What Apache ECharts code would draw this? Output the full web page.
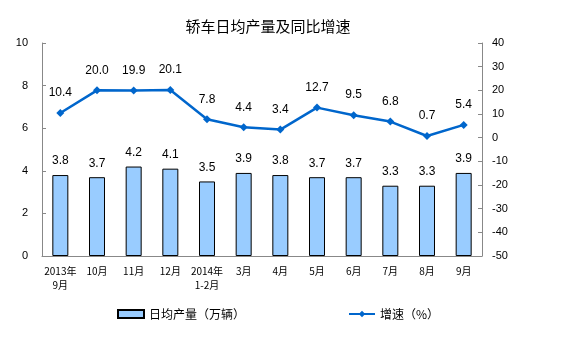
<!DOCTYPE html>
<html><head><meta charset="utf-8">
<script src="https://cdn.jsdelivr.net/npm/echarts@6/dist/echarts.min.js"></script>
<style>html,body{margin:0;padding:0;background:#fff}#c{width:565px;height:350px}</style>
</head><body><div id="c"></div>
<script>
var categories = ['2013年\n9月','10月','11月','12月','2014年\n1-2月','3月','4月','5月','6月','7月','8月','9月'];
var dailyOutput = [3.8,3.7,4.2,4.1,3.5,3.9,3.8,3.7,3.7,3.3,3.3,3.9];
var growthRate = [10.4,20.0,19.9,20.1,7.8,4.4,3.4,12.7,9.5,6.8,0.7,5.4];
var chart = echarts.init(document.getElementById('c'));
var axisCol = '#888888';
chart.setOption({
  animation:false,
  backgroundColor:'#fff',
  title:{text:'轿车日均产量及同比增速',left:263,top:14,textAlign:'center',
    textStyle:{fontFamily:'Noto Sans CJK SC',fontSize:15,fontWeight:'normal',color:'#000'}},
  grid:{left:42,right:83,top:43,bottom:94},
  legend:{top:303,left:112,itemGap:103,itemWidth:26,itemHeight:8,
    textStyle:{fontFamily:'Noto Sans CJK SC',fontSize:12,color:'#000'},
    data:[{name:'日均产量（万辆）',icon:'rect'},{name:'增速（%）'}]},
  xAxis:{type:'category',data:categories,
    axisLine:{lineStyle:{color:axisCol}},
    axisTick:{inside:true,length:4,lineStyle:{color:axisCol}},
    axisLabel:{color:'#000',fontFamily:'Noto Sans CJK SC',fontSize:10,lineHeight:14,margin:8,interval:0}},
  yAxis:[
    {type:'value',min:0,max:10,interval:2,position:'left',
     axisLine:{show:true,lineStyle:{color:axisCol}},
     axisTick:{show:true,inside:true,length:4,lineStyle:{color:axisCol}},
     splitLine:{show:false},
     axisLabel:{color:'#000',fontFamily:'Liberation Sans',fontSize:11,margin:14}},
    {type:'value',min:-50,max:40,interval:10,position:'right',
     axisLine:{show:true,lineStyle:{color:axisCol}},
     axisTick:{show:true,inside:true,length:4,lineStyle:{color:axisCol}},
     splitLine:{show:false},
     axisLabel:{color:'#000',fontFamily:'Liberation Sans',fontSize:11,margin:10}}
  ],
  series:[
    {name:'日均产量（万辆）',type:'bar',data:dailyOutput,barWidth:16,yAxisIndex:0,
     itemStyle:{color:'#99CCFF',borderColor:'#000',borderWidth:1},
     label:{show:true,position:'top',distance:8,color:'#000',fontFamily:'Liberation Sans',fontSize:12,
       formatter:function(p){return p.value.toFixed(1);}}},
    {name:'增速（%）',type:'line',data:growthRate,yAxisIndex:1,
     symbol:'diamond',symbolSize:8,
     lineStyle:{color:'#0066CC',width:2.5},
     itemStyle:{color:'#0066CC'},
     label:{show:true,position:'top',distance:10,color:'#000',fontFamily:'Liberation Sans',fontSize:12,
       formatter:function(p){return p.value.toFixed(1);}}}
  ]
});
</script></body></html>
